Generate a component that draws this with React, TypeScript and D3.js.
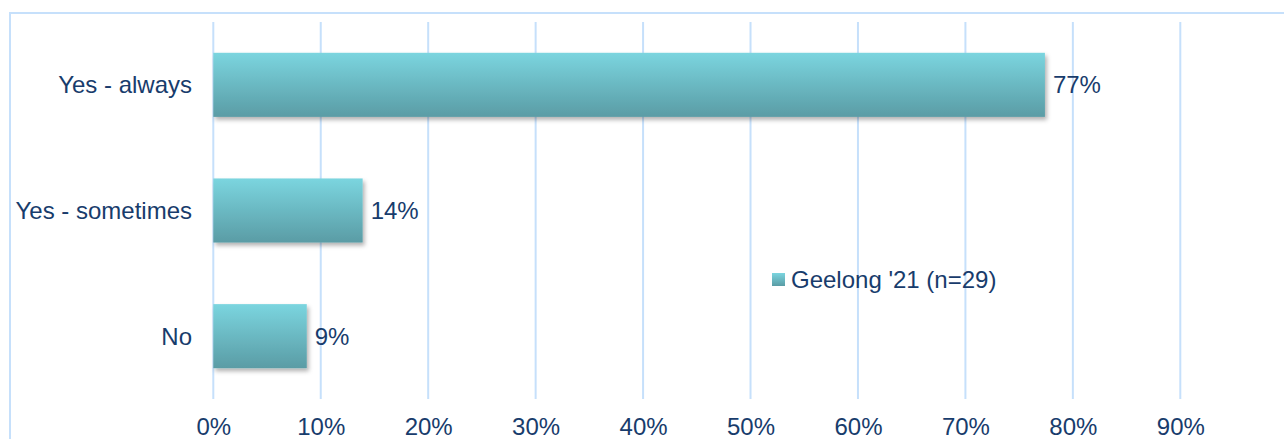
import { useRef, useEffect } from 'react'
import { select, scaleLinear, scaleBand, axisBottom, range } from 'd3'

const categories = ['Yes - always', 'Yes - sometimes', 'No']
const values = [77.4, 13.9, 8.7]
const valueLabels = ['77%', '14%', '9%']
const tickValues = [0, 10, 20, 30, 40, 50, 60, 70, 80, 90]
const seriesName = "Geelong '21 (n=29)"

const App = () => {
  const svgRef = useRef<SVGSVGElement>(null)

  useEffect(() => {
    const svg = select(svgRef.current)
    svg.selectAll('*').remove()

    const textColor = '#183c6c'
    const gridColor = '#c6e0fb'
    const font = '"Liberation Sans", Arial, sans-serif'
    const fontSize = 24

    const defs = svg.append('defs')
    const grad = defs
      .append('linearGradient')
      .attr('id', 'barGrad')
      .attr('x1', 0)
      .attr('y1', 0)
      .attr('x2', 0)
      .attr('y2', 1)
    grad.append('stop').attr('offset', '0%').attr('stop-color', '#7bd5df')
    grad.append('stop').attr('offset', '100%').attr('stop-color', '#5a9ca5')

    const shadow = defs
      .append('filter')
      .attr('id', 'shadow')
      .attr('x', '-10%')
      .attr('y', '-10%')
      .attr('width', '130%')
      .attr('height', '140%')
    shadow
      .append('feDropShadow')
      .attr('dx', 2)
      .attr('dy', 3)
      .attr('stdDeviation', 2)
      .attr('flood-color', '#000')
      .attr('flood-opacity', 0.3)

    // chart border (left + top only visible)
    svg
      .append('path')
      .attr('d', 'M10,440 L10,13 L1290,13')
      .attr('fill', 'none')
      .attr('stroke', gridColor)
      .attr('stroke-width', 2)

    const top = 22
    const bottom = 399
    const xScale = scaleLinear().domain([0, 90]).range([213.3, 1180.3])
    const yScale = scaleBand<string>()
      .domain(categories)
      .range([top, bottom])
      .paddingInner(0.49)
      .paddingOuter(0.245)

    // gridlines
    svg
      .append('g')
      .selectAll('line')
      .data(tickValues)
      .join('line')
      .attr('x1', (d) => xScale(d))
      .attr('x2', (d) => xScale(d))
      .attr('y1', top)
      .attr('y2', bottom)
      .attr('stroke', gridColor)
      .attr('stroke-width', 2)

    // x axis labels
    const xAxisGroup = svg
      .append('g')
      .attr('transform', `translate(0, ${bottom})`)
      .call(
        axisBottom(xScale)
          .tickValues(tickValues)
          .tickSize(0)
          .tickPadding(19)
          .tickFormat((d) => `${d}%`)
      )
    xAxisGroup.select('.domain').remove()
    xAxisGroup
      .selectAll('text')
      .attr('fill', textColor)
      .attr('font-size', fontSize)
      .attr('font-family', font)

    // bars
    const idx = range(categories.length)
    svg
      .append('g')
      .selectAll('rect')
      .data(idx)
      .join('rect')
      .attr('x', xScale(0))
      .attr('y', (i) => yScale(categories[i])!)
      .attr('width', (i) => xScale(values[i]) - xScale(0))
      .attr('height', yScale.bandwidth())
      .attr('fill', 'url(#barGrad)')
      .attr('filter', 'url(#shadow)')

    // category labels
    svg
      .append('g')
      .selectAll('text')
      .data(idx)
      .join('text')
      .attr('x', 192)
      .attr('y', (i) => yScale(categories[i])! + yScale.bandwidth() / 2)
      .attr('dy', '0.35em')
      .attr('text-anchor', 'end')
      .attr('fill', textColor)
      .attr('font-size', fontSize)
      .attr('font-family', font)
      .text((i) => categories[i])

    // value labels
    svg
      .append('g')
      .selectAll('text')
      .data(idx)
      .join('text')
      .attr('x', (i) => xScale(values[i]) + 8)
      .attr('y', (i) => yScale(categories[i])! + yScale.bandwidth() / 2)
      .attr('dy', '0.35em')
      .attr('fill', textColor)
      .attr('font-size', fontSize)
      .attr('font-family', font)
      .text((i) => valueLabels[i])

    // legend
    const legend = svg.append('g').attr('transform', 'translate(772, 273)')
    legend
      .append('rect')
      .attr('width', 13)
      .attr('height', 13)
      .attr('fill', 'url(#barGrad)')
    legend
      .append('text')
      .attr('x', 19)
      .attr('y', 7)
      .attr('dy', '0.35em')
      .attr('fill', textColor)
      .attr('font-size', fontSize)
      .attr('font-family', font)
      .text(seriesName)
  }, [])

  return (
    <div>
      <svg
        ref={svgRef}
        width={1284}
        height={439}
        style={{ position: 'absolute', left: 0, top: 0, background: '#fff' }}
      ></svg>
    </div>
  )
}

export default App
